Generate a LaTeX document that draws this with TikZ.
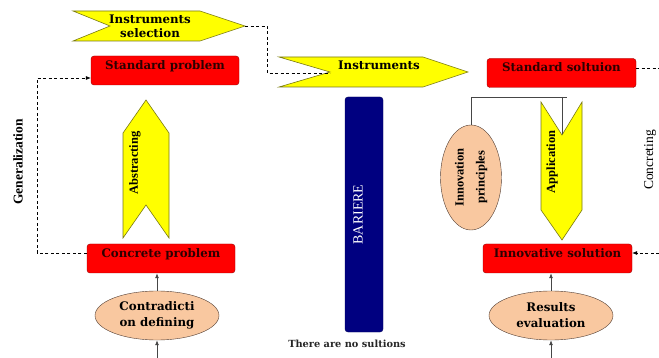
\documentclass[tikz,border=0pt]{standalone}
\usepackage{fontspec}
\setmainfont{Liberation Serif}
\newfontfamily\boxfont{DejaVu Serif}
\usetikzlibrary{shapes.geometric,arrows.meta}

\definecolor{boxred}{RGB}{255,0,0}
\definecolor{boxedge}{RGB}{150,0,0}
\definecolor{boxtext}{RGB}{45,0,0}
\definecolor{arrowyellow}{RGB}{255,255,0}
\definecolor{arrowedge}{RGB}{120,120,20}
\definecolor{peach}{RGB}{249,200,160}
\definecolor{peachedge}{RGB}{80,60,50}
\definecolor{barrierblue}{RGB}{0,0,128}
\definecolor{connline}{RGB}{70,70,70}

\tikzset{
  redbox/.style={draw=boxedge, fill=boxred, rounded corners=3pt, minimum width=148pt, minimum height=29pt,
    inner sep=0pt, text=boxtext, font=\boxfont\bfseries\fontsize{11.8}{14}\selectfont, text height=9pt, text depth=11pt},
  yellowarrow/.style={draw=arrowedge, fill=arrowyellow, line width=0.6pt},
  peachell/.style={ellipse, draw=peachedge, fill=peach, inner sep=0pt, align=center,
    font=\boxfont\bfseries\fontsize{11.8}{16}\selectfont},
  shapetext/.style={inner sep=0pt, align=center, font=\boxfont\bfseries\fontsize{11.8}{14}\selectfont},
  rottext/.style={rotate=90, inner sep=0pt, font=\bfseries\fontsize{12.5}{15}\selectfont},
  dashedline/.style={dashed, line width=0.6pt, dash pattern=on 3pt off 2.5pt},
  conn/.style={draw=connline, line width=0.8pt},
  tip/.style={-{Latex[length=5pt,width=4pt]}}
}

\begin{document}
\begin{tikzpicture}[x=1pt,y=-1pt]
\useasboundingbox (0,0) rectangle (659,358);

%Shape: Instruments selection
\draw [yellowarrow] (73,11) -- (200,11) -- (245,26) -- (200,41) -- (73,41) -- (110,26) -- cycle ;
\coordinate (seltip) at (245,26);
% Text Node
\node [shapetext] (instsel) at (150,26) {Instruments\\selection};

%Shape: Instruments
\draw [yellowarrow] (279,57) -- (423,57) -- (468,72) -- (423,87) -- (279,87) -- (330,72) -- cycle ;
\coordinate (instnotch) at (330,73);
% Text Node
\node [shapetext] (inst) at (379,65) {Instruments};

%Shape: Abstracting
\draw [yellowarrow] (123,238) -- (123,133) -- (146,100) -- (169,133) -- (169,238) -- (146,205) -- cycle ;
\node [rottext] (abstr) at (135,163) {Abstracting};

%Shape: Application
\draw [yellowarrow] (541,102) -- (562,135) -- (582,102) -- (582,210) -- (562,240) -- (541,210) -- cycle ;
\coordinate (appnotch) at (562,134);
\node [rottext] (appl) at (552,162) {Application};

% Boxes
\node [redbox] (stdprob) at (165,70.5) {Standard problem};
\node [redbox] (concrete) at (161,258.5) {Concrete problem};
\node [redbox, minimum width=149pt] (stdsol) at (561.5,73) {Standard soltuion};
\node [redbox, minimum width=149pt] (innsol) at (557.5,258.5) {Innovative solution};

% Ellipses
\node [peachell, minimum width=124pt, minimum height=49pt] (contra) at (157,315.5) {Contradicti\\on defining};
\node [peachell, minimum width=124pt, minimum height=49pt] (results) at (551,315.5) {Results\\evaluation};
\node [peachell, rotate=90, minimum width=105pt, minimum height=61pt, font=\bfseries\fontsize{12.5}{21}\selectfont] (innov) at (471,177.5) {Innovation\\principles};

%Shape: Barrier
\node [draw=barrierblue!70!black, fill=barrierblue, rounded corners=3pt, minimum width=38pt, minimum height=235pt, inner sep=0pt] (barrier) at (364,214.5) {};
\node [rottext, text=white, font=\fontsize{14}{16}\selectfont] (bartext) at ([xshift=-6pt]barrier.center) {BARIERE};
% Text Node
\node [inner sep=0pt, font=\boxfont\bfseries\fontsize{9.8}{12}\selectfont, text=black!85] (nosol) at (347,344) {There are no sultions};

% Side labels
\node [rottext, font=\bfseries\fontsize{13.5}{16}\selectfont] (general) at (18,162) {Generalization};
\node [rottext, font=\fontsize{13.5}{16}\selectfont] (concret) at (650,160) {Concreting};

% Dashed links
\coordinate (gbot) at (37,253);
\coordinate (gtop) at (37,78);
\draw [dashedline, tip] (concrete.west |- gbot) -- (gbot) -- (gtop) -- (stdprob.west |- gtop);
\draw [dashedline] (seltip) -| (267,73) -- (instnotch);
\coordinate (rtop) at (659,68);
\coordinate (rbot) at (659,253);
\draw [dashedline] (stdsol.east |- rtop) -- (rtop);
\draw [dashedline, tip] (rbot) -- (innsol.east |- rbot);

% Solid links
\coordinate (joinend) at (567,97);
\coordinate (contrain) at (157,358);
\coordinate (resultsin) at (551,358);
\draw [conn] (innov.east) |- (joinend);
\draw [conn] (appnotch |- joinend) -- (appnotch);
\draw [conn, tip] (contra.north) -- (contra.north |- concrete.south);
\draw [conn, tip] (contrain) -- (contra.south);
\draw [conn, tip] (results.north) -- (results.north |- innsol.south);
\draw [conn, tip] (resultsin) -- (results.south);

\end{tikzpicture}
\end{document}
